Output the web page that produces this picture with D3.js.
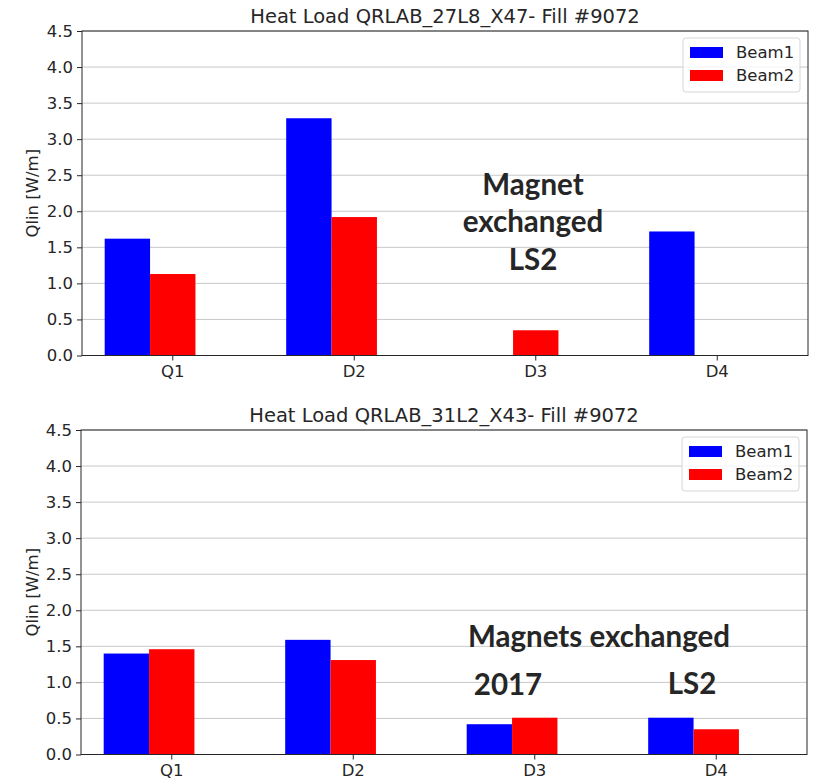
<!DOCTYPE html>
<html>
<head>
<meta charset="utf-8">
<script src="https://cdn.jsdelivr.net/npm/d3@7"></script>
<style>
  body { margin: 0; background: #fff; }
  svg text { font-family: "DejaVu Sans", sans-serif; fill: #262626; }
  .note { font-family: Lato, "Open Sans", sans-serif; font-weight: 700; }
</style>
</head>
<body>
<div id="chart"></div>
<script>
const ancho = 820;
const alto = 779;

const categorias = ["Q1", "D2", "D3", "D4"];
const series = ["Beam1", "Beam2"];
const colores = ["#0000ff", "#ff0000"];

// panel de arriba (null = sin dato)
const beam1Arriba = [1.62, 3.29, null, 1.72];
const beam2Arriba = [1.13, 1.92, 0.35, null];
// panel de abajo
const beam1Abajo = [1.40, 1.59, 0.42, 0.51];
const beam2Abajo = [1.46, 1.31, 0.51, 0.35];

const ticksY = [0, 0.5, 1, 1.5, 2, 2.5, 3, 3.5, 4, 4.5];

const paneles = [
  { titulo: "Heat Load QRLAB_27L8_X47- Fill #9072", datos: [beam1Arriba, beam2Arriba],
    izq: 82, der: 808, arr: 31, abj: 355.5,
    notas: [
      { t: "Magnet", x: 533, y: 195 },
      { t: "exchanged", x: 533, y: 232 },
      { t: "LS2", x: 533, y: 270 }
    ] },
  { titulo: "Heat Load QRLAB_31L2_X43- Fill #9072", datos: [beam1Abajo, beam2Abajo],
    izq: 81, der: 807, arr: 430, abj: 754.5,
    notas: [
      { t: "Magnets exchanged", x: 599, y: 647 },
      { t: "2017", x: 508, y: 695 },
      { t: "LS2", x: 692, y: 694 }
    ] }
];

const svg = d3.select("#chart").append("svg")
  .attr("width", ancho)
  .attr("height", alto);

paneles.forEach(p => {
  const x = d3.scaleBand().domain(categorias).range([p.izq, p.der]).padding(0);
  const y = d3.scaleLinear().domain([0, 4.5]).range([p.abj, p.arr]);
  const paso = x.bandwidth();
  const anchoBarra = paso * 0.25;
  const g = svg.append("g");

  // rejilla
  g.selectAll(".grid")
    .data(ticksY)
    .enter()
    .append("line")
    .attr("x1", p.izq).attr("x2", p.der)
    .attr("y1", d => y(d)).attr("y2", d => y(d))
    .attr("stroke", "#c8c8c8")
    .attr("stroke-width", 1);

  // barras: el tick cae en el centro de la barra de Beam2
  series.forEach((s, k) => {
    const filas = categorias.map((c, i) => ({ c, v: p.datos[k][i] })).filter(d => d.v !== null);
    g.selectAll(".b" + k)
      .data(filas)
      .enter()
      .append("rect")
      .attr("x", d => x(d.c) + paso * 0.125 + k * anchoBarra)
      .attr("y", d => y(d.v))
      .attr("width", anchoBarra)
      .attr("height", d => y(0) - y(d.v))
      .attr("fill", colores[k]);
  });

  // ejes
  const ejeY = d3.axisLeft(y).tickValues(ticksY).tickFormat(d3.format(".1f")).tickSize(5).tickPadding(4);
  const gy = g.append("g").attr("transform", `translate(${p.izq},0)`).call(ejeY);
  const ejeX = d3.axisBottom(x).tickSize(5).tickPadding(5);
  const gx = g.append("g").attr("transform", `translate(0,${p.abj})`).call(ejeX);
  [gx, gy].forEach(a => {
    a.select(".domain").remove();
    a.selectAll("line").attr("stroke", "#262626");
    a.selectAll("text").attr("font-size", 16.5).attr("font-family", "DejaVu Sans").attr("fill", "#262626");
  });

  // marco
  g.append("rect")
    .attr("x", p.izq).attr("y", p.arr)
    .attr("width", p.der - p.izq).attr("height", p.abj - p.arr)
    .attr("fill", "none")
    .attr("stroke", "#262626")
    .attr("stroke-width", 1);

  // titulo y etiqueta
  g.append("text")
    .attr("x", (p.izq + p.der) / 2)
    .attr("y", p.arr - 8)
    .attr("text-anchor", "middle")
    .attr("font-size", 19.5)
    .text(p.titulo);

  g.append("text")
    .attr("transform", `translate(38,${(p.arr + p.abj) / 2}) rotate(-90)`)
    .attr("text-anchor", "middle")
    .attr("font-size", 16.5)
    .text("Qlin [W/m]");

  // leyenda
  const lx = p.der - 125, ly = p.arr + 7;
  const leyenda = g.append("g").attr("transform", `translate(${lx},${ly})`);
  leyenda.append("rect")
    .attr("width", 117).attr("height", 54)
    .attr("rx", 3)
    .attr("fill", "#fff").attr("fill-opacity", 0.8)
    .attr("stroke", "#d6d6d6");
  series.forEach((s, k) => {
    leyenda.append("rect")
      .attr("x", 7).attr("y", 9 + k * 23)
      .attr("width", 33).attr("height", 11)
      .attr("fill", colores[k]);
    leyenda.append("text")
      .attr("x", 53).attr("y", 20 + k * 23)
      .attr("font-size", 16.5)
      .text(s);
  });

  // notas
  g.selectAll(".note")
    .data(p.notas)
    .enter()
    .append("text")
    .attr("class", "note")
    .attr("x", d => d.x)
    .attr("y", d => d.y)
    .attr("text-anchor", "middle")
    .attr("font-size", 29.5)
    .text(d => d.t);
});
</script>
</body>
</html>
